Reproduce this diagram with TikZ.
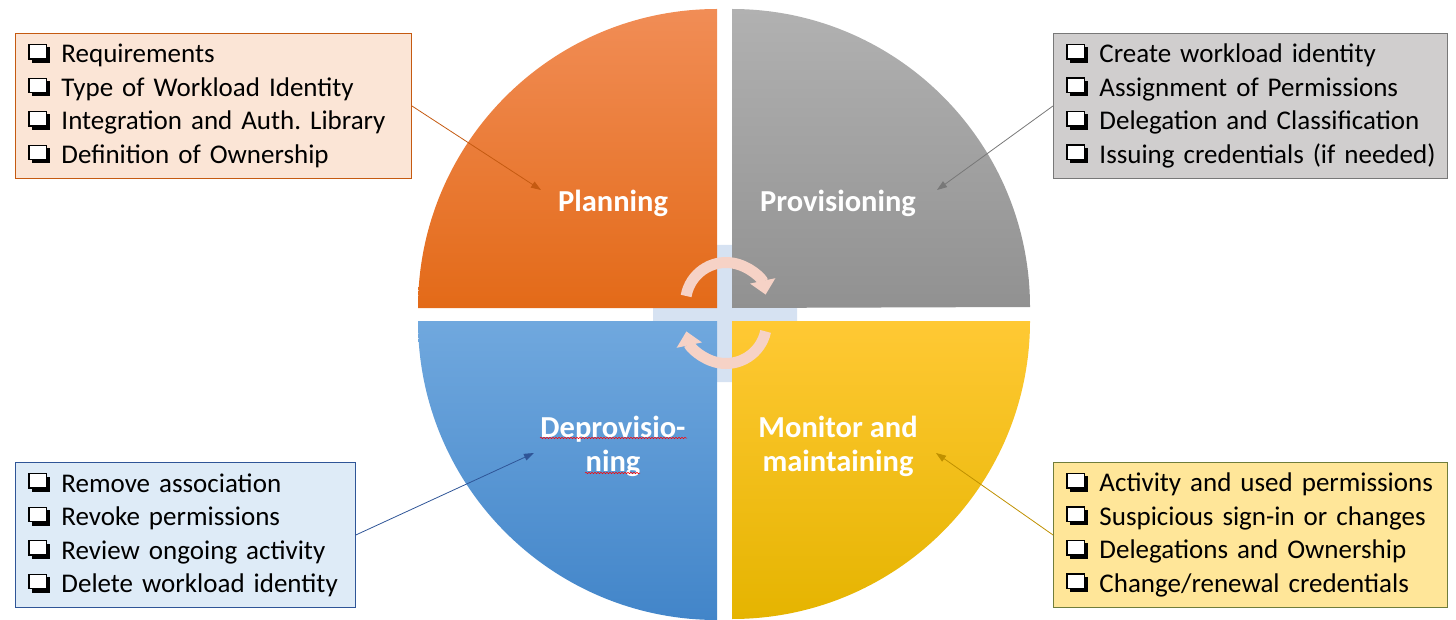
\documentclass[tikz,border=0pt]{standalone}
\usepackage{fontspec}
\setmainfont{Carlito}
\usepackage{tikz}
\usetikzlibrary{arrows.meta,calc,positioning,decorations.pathmorphing}

\definecolor{planFill}{RGB}{251,229,214}
\definecolor{planLine}{RGB}{197,90,17}
\definecolor{provFill}{RGB}{208,206,206}
\definecolor{provLine}{RGB}{120,120,120}
\definecolor{deprovFill}{RGB}{222,235,247}
\definecolor{deprovLine}{RGB}{47,85,151}
\definecolor{monFill}{RGB}{255,230,153}
\definecolor{monLine}{RGB}{112,125,60}
\definecolor{monArrow}{RGB}{191,144,0}
\definecolor{cycleArrow}{RGB}{246,210,198}
\definecolor{hubBlue}{RGB}{214,226,242}

% shadowed check box in front of every task
\newcommand{\chkbox}{\makebox[33pt][l]{\tikz[x=1pt,y=1pt,baseline=0pt]{%
  \fill[black] (3.3,0) rectangle (21.5,15.5);
  \filldraw[fill=white,draw=black,line width=1.3pt] (0.65,3.95) rectangle (17.8,18.3);}}}
\newcommand{\task}[1]{\mbox{\chkbox#1}}

\begin{document}
\frenchspacing
\begin{tikzpicture}[x=1pt,y=-1pt,>=Latex,
  listbox/.style={draw,line width=0.9pt,anchor=north west,align=left,
    inner xsep=13pt,minimum height=145pt,
    font=\fontsize{27}{33.5}\selectfont},
  phase/.style={text=white,align=center,
    font=\fontsize{30.5}{34}\bfseries\selectfont},
  conn/.style={line width=0.8pt,-{Triangle[length=10pt,width=7pt]}},
  cyc/.style={line width=11pt,cycleArrow,-{Triangle[length=14pt,width=25pt]}}]
  \useasboundingbox (0,0) rectangle (1456,620);

  % Hub behind the four quarters
  \fill[hubBlue,rounded corners=3pt] (653,245) rectangle (797,382);

  % Quarters of the cycle
  \shade[top color={rgb,255:red,241;green,141;blue,86},bottom color={rgb,255:red,227;green,106;blue,24}]
    (717,308) -- (418,308) arc[start angle=180,end angle=90,radius=299pt] -- cycle;
  \shade[top color={rgb,255:red,177;green,177;blue,177},bottom color={rgb,255:red,145;green,145;blue,145}]
    (732,308) -- (732,9) arc[start angle=90,end angle=0,radius=298pt] -- cycle;
  \shade[top color={rgb,255:red,112;green,168;blue,222},bottom color={rgb,255:red,66;green,133;blue,201}]
    (717,321) -- (717,620) arc[start angle=270,end angle=180,radius=299pt] -- cycle;
  \shade[top color={rgb,255:red,255;green,201;blue,52},bottom color={rgb,255:red,229;green,180;blue,0}]
    (732,321) -- (1030,321) arc[start angle=0,end angle=-90,radius=298pt] -- cycle;

  % Phase names
  \node[phase] (plan) at (613,203) {Planning};
  \node[phase] (prov) at (838,203) {Provisioning};
  \node[phase] (deprov) at (613,446) {Deprovisio-\\ning};
  \node[phase] (mon) at (838,446) {Monitor and\\maintaining};

  % Spell-check marks under Deprovisio-ning
  \draw[red,line width=0.5pt,decorate,decoration={snake,amplitude=0.7pt,segment length=3pt}]
    (540,438) -- (687,438);
  \draw[red,line width=0.5pt,decorate,decoration={snake,amplitude=0.7pt,segment length=3pt}]
    (585,473) -- (640,473);

  % Cycle arrows in the middle
  \coordinate (hubTop) at (726,303);
  \coordinate (hubBot) at (726,323);
  \draw[cyc] ([shift={(170:40.5pt)}]hubTop) arc[start angle=170,end angle=12,radius=40.5pt];
  \draw[cyc] ([shift={(-12:40.5pt)}]hubBot) arc[start angle=-12,end angle=-168,radius=40.5pt];

  % Task lists
  \node[listbox,planLine,fill=planFill,text=black,text width=370pt] (planlist) at (15,33)
    {\task{Requirements}\\ \task{Type of Workload Identity}\\ \task{Integration and Auth. Library}\\ \task{Definition of Ownership}};
  \node[listbox,provLine,fill=provFill,text=black,text width=368pt] (provlist) at (1053,33)
    {\task{Create workload identity}\\ \task{Assignment of Permissions}\\ \task{Delegation and Classification}\\ \task{Issuing credentials (if needed)}};
  \node[listbox,deprovLine,fill=deprovFill,text=black,text width=314pt] (deprovlist) at (15,462)
    {\task{Remove association}\\ \task{Revoke permissions}\\ \task{Review ongoing activity}\\ \task{Delete workload identity}};
  \node[listbox,monLine,fill=monFill,text=black,text width=368pt] (monlist) at (1053,462)
    {\task{Activity and used permissions}\\ \task{Suspicious sign-in or changes}\\ \task{Delegations and Ownership}\\ \task{Change/renewal credentials}};

  % Pointers from lists to phases
  \coordinate (planTip) at (541,190);
  \coordinate (provTip) at (937,190);
  \coordinate (deprovTip) at (534,453);
  \coordinate (monTip) at (936,453);
  \draw[conn,planLine] (planlist.east) -- (planTip);
  \draw[conn,provLine] (provlist.west) -- (provTip);
  \draw[conn,deprovLine] (deprovlist.east) -- (deprovTip);
  \draw[conn,monArrow] (monlist.west) -- (monTip);

\end{tikzpicture}
\end{document}
